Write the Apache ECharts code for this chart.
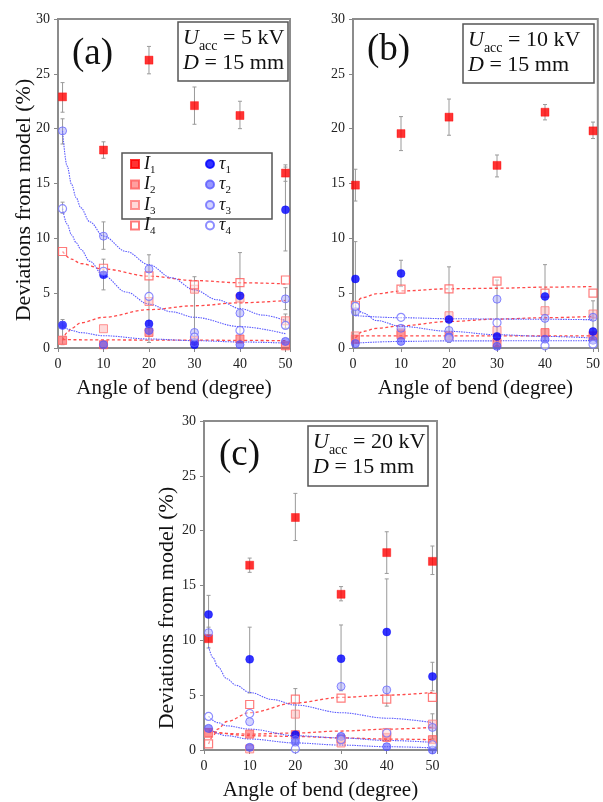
<!DOCTYPE html>
<html><head><meta charset="utf-8">
<script src="https://cdn.jsdelivr.net/npm/echarts@6/dist/echarts.min.js"></script>
<style>html,body{margin:0;padding:0;background:#fff}#c{width:603px;height:802px}</style>
</head><body><div id="c"></div>
<script>
// ---------- DATA ----------
const xTicks = [0, 10, 20, 30, 40, 50];
const xA = [1, 10, 20, 30, 40, 50];
const xB = [0.5, 10, 20, 30, 40, 50];
const xC = [1, 10, 20, 30, 40, 50];

// panel (a) Uacc = 5 kV
const a_I1 = [22.9, 18.05, 26.25, 22.1, 21.2, 15.95];
const a_I2 = [0.7, 0.3, 1.42, 0.67, 0.82, 0.2];
const a_I3 = [0.7, 1.76, 4.24, 5.36, 4.55, 2.48];
const a_I4 = [8.8, 7.27, 6.58, 5.76, 5.97, 6.2];
const a_t1 = [2.1, 6.67, 2.2, 0.3, 4.76, 12.6];
const a_t2 = [2.06, 0.3, 1.6, 0.5, 0.3, 0.6];
const a_t3 = [19.8, 10.2, 7.2, 1.42, 3.18, 4.48];
const a_t4 = [12.7, 7.0, 4.7, 1.0, 1.6, 2.06];
const a_fitT3 = [[1,19.8],[2,16.6],[3,14.9],[4,13.7],[5,12.8],[7,11.5],[10,10.2],[15,8.8],[20,7.6],[25,6.4],[30,5.3],[35,4.4],[40,3.6],[45,3.0],[50,2.5]];
const a_fitT4 = [[1,12.7],[2,11.3],[3,10.3],[4,9.6],[5,9.0],[7,7.9],[10,6.6],[15,5.1],[20,4.0],[25,3.3],[30,2.8],[40,1.95],[50,1.3]];
const a_fitT2 = [[1,2.06],[3,1.6],[5,1.4],[10,1.12],[20,0.82],[30,0.67],[40,0.55],[50,0.45]];
const a_fitI4 = [[1,8.8],[3,8.1],[5,7.7],[10,7.2],[20,6.55],[30,6.15],[40,5.95],[50,5.85]];
const a_fitI3 = [[1,0.7],[2,1.4],[3,1.8],[5,2.3],[10,2.8],[20,3.5],[30,3.85],[40,4.12],[50,4.33]];
const a_fitI2 = [[1,0.76],[25,0.72],[50,0.67]];
const a_err = [[1,21.5,24.2],[10,17.3,18.8],[20,25.0,27.5],[30,20.4,23.8],[40,20.0,22.5],[50,15.2,16.7],
  [50,8.85,16.5],[1,18.6,20.9],[1,12.3,13.3],[1,0.3,2.6],[10,9.0,11.5],[10,5.3,8.1],[20,0.5,8.5],
  [30,0.2,6.5],[40,0.5,8.7],[50,3.5,5.5],[50,1.8,3.1]];

// panel (b) Uacc = 10 kV
const b_I1 = [14.85, 19.55, 21.05, 16.65, 21.5, 19.8];
const b_I2 = [0.8, 1.2, 1.1, 0.5, 1.4, 1.1];
const b_I3 = [1.1, 1.36, 2.94, 1.6, 3.4, 3.1];
const b_I4 = [3.9, 5.36, 5.4, 6.1, 5.0, 5.0];
const b_t1 = [6.3, 6.8, 2.6, 1.06, 4.7, 1.5];
const b_t2 = [0.4, 0.6, 1.0, 0.15, 0.8, 0.7];
const b_t3 = [3.3, 1.8, 1.6, 4.45, 2.7, 2.8];
const b_t4 = [3.8, 2.8, 0.9, 2.3, 0.2, 0.35];
const b_fitT4 = [[0.5,3.9],[2,3.2],[5,2.5],[10,1.97],[20,1.52],[30,1.21],[40,1.06],[50,0.91]];
const b_fitT3 = [[0.5,2.95],[10,2.76],[20,2.67],[30,2.64],[40,2.62],[50,2.58]];
const b_fitT2 = [[0.5,0.45],[10,0.6],[20,0.65],[50,0.67]];
const b_fitI4 = [[0.5,4.0],[2,4.6],[5,4.95],[10,5.2],[20,5.4],[30,5.45],[40,5.55],[50,5.6]];
const b_fitI3 = [[0.5,0.9],[2,1.5],[5,1.8],[10,2.03],[20,2.42],[30,2.64],[40,2.76],[50,2.88]];
const b_fitI2 = [[0.5,1.1],[25,1.1],[50,1.1]];
const b_err = [[0.5,13.4,16.3],[10,18.0,21.1],[20,19.4,22.7],[30,15.6,17.6],[40,20.8,22.2],[50,19.1,20.6],
  [0.5,3.0,9.7],[10,5.6,8.0],[20,0.5,7.4],[30,0.2,6.2],[40,0.5,7.6],[50,0.8,4.3]];

// panel (c) Uacc = 20 kV
const c_I1 = [10.15, 16.85, 21.2, 14.2, 18.0, 17.2];
const c_I2 = [1.6, 1.45, 1.4, 1.0, 1.15, 0.94];
const c_I3 = [1.5, 0.1, 3.27, 0.64, 1.6, 2.36];
const c_I4 = [0.55, 4.15, 4.64, 4.73, 4.64, 4.8];
const c_t1 = [12.36, 8.27, 1.4, 8.33, 10.76, 6.7];
const c_t2 = [1.97, 0.24, 0.7, 1.24, 0.3, 0.0];
const c_t3 = [10.7, 2.58, 0.95, 5.8, 5.48, 2.06];
const c_t4 = [3.06, 3.33, 0.1, 0.94, 1.55, 0.48];
const c_fitT3 = [[1,9.4],[2,8.4],[3,7.6],[5,6.5],[7,5.9],[10,5.25],[15,4.6],[20,4.1],[30,3.4],[40,2.9],[50,2.5]];
const c_fitT4 = [[1,3.06],[3,2.5],[5,2.2],[10,1.9],[20,1.3],[30,1.1],[40,0.87],[50,0.7]];
const c_fitT2 = [[1,1.9],[5,1.3],[10,1.0],[20,0.64],[30,0.45],[40,0.3],[50,0.2]];
const c_fitI4 = [[1,0.55],[2,1.3],[3,1.9],[5,2.6],[10,3.4],[20,4.3],[30,4.8],[40,5.0],[50,5.25]];
const c_fitI2 = [[1,1.6],[10,1.45],[20,1.55],[30,1.73],[40,1.9],[50,2.06]];
const c_fitI3 = [[1,1.75],[10,1.3],[20,1.24],[30,1.1],[40,1.0],[50,0.94]];
const c_err = [[10,16.2,17.5],[20,19.1,23.4],[30,13.6,14.9],[40,16.1,19.9],[50,16.0,18.6],
  [1,10.5,14.1],[1,9.3,11.2],[10,5.2,11.2],[30,5.4,11.4],[40,4.0,15.6],[50,5.4,8.0],[20,0.5,5.6],[50,1.0,3.3]];

const seriesNames = ['I1','I2','I3','I4','τ1','τ2','τ3','τ4'];
const panelLabels = ['(a)','(b)','(c)'];
const voltages = ['5 kV','10 kV','20 kV'];
const xTitle = 'Angle of bend (degree)';
const yTitle = 'Deviations from model (%)';

// ---------- STYLE ----------
const SERIF = '"Liberation Serif","DejaVu Serif",serif';
const RED_FIT = '#ff4a4a', BLUE_FIT = '#5a5aff';
const markerStyle = {
  'I1': {symbol:'rect', itemStyle:{color:'#ff0000', borderColor:'#ff0000', borderWidth:0.5}},
  'I2': {symbol:'rect', itemStyle:{color:'rgba(255,70,70,0.65)', borderColor:'#ff5a5a', borderWidth:1}},
  'I3': {symbol:'rect', itemStyle:{color:'rgba(255,120,120,0.35)', borderColor:'#ff7a7a', borderWidth:1}},
  'I4': {symbol:'rect', itemStyle:{color:'rgba(255,255,255,0.55)', borderColor:'#ff5a5a', borderWidth:1.2}},
  'τ1': {symbol:'circle', itemStyle:{color:'#0000ff', borderColor:'#0000ff', borderWidth:0.5}},
  'τ2': {symbol:'circle', itemStyle:{color:'rgba(70,70,255,0.7)', borderColor:'#5a5aff', borderWidth:1}},
  'τ3': {symbol:'circle', itemStyle:{color:'rgba(130,130,255,0.45)', borderColor:'#6a6aff', borderWidth:1}},
  'τ4': {symbol:'circle', itemStyle:{color:'rgba(255,255,255,0.55)', borderColor:'#7070ff', borderWidth:1.2}}
};

const grids = [
  {left:58, top:19, width:232, height:329},
  {left:353, top:19, width:248, height:329},
  {left:204, top:421, width:233, height:330}
];

const panels = [
  {x:xA, vals:{'I1':a_I1,'I2':a_I2,'I3':a_I3,'I4':a_I4,'τ1':a_t1,'τ2':a_t2,'τ3':a_t3,'τ4':a_t4},
   fits:[[a_fitI4,'r'],[a_fitI3,'r'],[a_fitI2,'r'],[a_fitT3,'b'],[a_fitT4,'b'],[a_fitT2,'b']], err:a_err},
  {x:xB, vals:{'I1':b_I1,'I2':b_I2,'I3':b_I3,'I4':b_I4,'τ1':b_t1,'τ2':b_t2,'τ3':b_t3,'τ4':b_t4},
   fits:[[b_fitI4,'r'],[b_fitI3,'r'],[b_fitI2,'r'],[b_fitT4,'b'],[b_fitT3,'b'],[b_fitT2,'b']], err:b_err},
  {x:xC, vals:{'I1':c_I1,'I2':c_I2,'I3':c_I3,'I4':c_I4,'τ1':c_t1,'τ2':c_t2,'τ3':c_t3,'τ4':c_t4},
   fits:[[c_fitI4,'r'],[c_fitI2,'r'],[c_fitI3,'r'],[c_fitT3,'b'],[c_fitT4,'b'],[c_fitT2,'b']], err:c_err}
];

const series = [];
const xAxes = [], yAxes = [];
panels.forEach((p, g) => {
  xAxes.push({
    gridIndex:g, type:'value', min:0, max:51, interval:10,
    name: xTitle, nameLocation:'middle', nameGap:30,
    nameTextStyle:{fontFamily:SERIF, fontSize:21, color:'#111'},
    axisLine:{show:false}, splitLine:{show:false},
    axisTick:{show:true, length:4, lineStyle:{color:'#888'}},
    axisLabel:{fontFamily:SERIF, fontSize:14, color:'#222', margin:9,
      formatter: v => (xTicks.indexOf(v) >= 0 ? String(v) : '')}
  });
  yAxes.push({
    gridIndex:g, type:'value', min:0, max:30, interval:5,
    axisLine:{show:false}, splitLine:{show:false},
    axisTick:{show:true, length:4, lineStyle:{color:'#888'}},
    axisLabel:{fontFamily:SERIF, fontSize:14, color:'#222', margin:8}
  });
  series.push({
    type:'custom', xAxisIndex:g, yAxisIndex:g, z:1, silent:true,
    data:p.err,
    renderItem:(params, api) => {
      const x = api.value(0), lo = api.value(1), hi = api.value(2);
      const a = api.coord([x, lo]), b = api.coord([x, hi]);
      const st = {stroke:'#9a9a9a', lineWidth:1};
      return {type:'group', children:[
        {type:'line', shape:{x1:a[0], y1:a[1], x2:b[0], y2:b[1]}, style:st},
        {type:'line', shape:{x1:a[0]-2, y1:a[1], x2:a[0]+2, y2:a[1]}, style:st},
        {type:'line', shape:{x1:b[0]-2, y1:b[1], x2:b[0]+2, y2:b[1]}, style:st}
      ]};
    }
  });
  p.fits.forEach(f => {
    series.push({
      type:'line', xAxisIndex:g, yAxisIndex:g, data:f[0], smooth:0.35, smoothMonotone:'x',
      showSymbol:false, silent:true, z:2,
      lineStyle: f[1] === 'r' ? {color:RED_FIT, width:1.3, type:[3,2.5]} : {color:BLUE_FIT, width:1.1, type:[1.5,1]}
    });
  });
  seriesNames.forEach(n => {
    series.push({
      type:'scatter', name:n, xAxisIndex:g, yAxisIndex:g, z:3,
      data: p.x.map((x, i) => [x, p.vals[n][i]]),
      symbol: markerStyle[n].symbol, symbolSize:8,
      itemStyle: markerStyle[n].itemStyle
    });
  });
});

const legendText = {
  fontFamily:SERIF, color:'#111', lineHeight:15,
  rich:{
    i:{fontFamily:SERIF, fontSize:18, fontStyle:'italic', lineHeight:15, color:'#111'},
    s:{fontFamily:SERIF, fontSize:11, lineHeight:11, verticalAlign:'bottom', color:'#111', padding:[0,0,-4,0]}
  }
};
const legendFmt = name => '{i|' + name[0] + '}{s|' + name.slice(1) + '}';

const graphics = [];
// legend box
graphics.push({type:'rect', shape:{x:122, y:153, width:150, height:66}, style:{fill:'#fff', stroke:'#555', lineWidth:1.5}, z:5});
// y titles
[[24, 200], [167, 608]].forEach(pos => {
  graphics.push({type:'text', x:pos[0], y:pos[1], rotation:Math.PI/2, z:10,
    style:{text:yTitle, fontFamily:SERIF, fontSize:22, fill:'#111', align:'center', verticalAlign:'middle'}});
});
// panel labels
[[72, 54], [367, 50], [219, 455]].forEach((pos, i) => {
  graphics.push({type:'text', x:pos[0], y:pos[1], z:10,
    style:{text:panelLabels[i], fontFamily:SERIF, fontSize:37, fill:'#111', align:'left', verticalAlign:'middle'}});
});
// annotation boxes
[[178, 22, 110, 59], [463, 24, 131, 59], [308, 426, 120, 60]].forEach((b, i) => {
  graphics.push({type:'rect', shape:{x:b[0], y:b[1], width:b[2], height:b[3]}, z:9,
    style:{fill:'#fff', stroke:'#555', lineWidth:1.5}});
  graphics.push({type:'text', x:b[0] + 5, y:b[1] + 4, z:10,
    style:{
      text:'{i|U}{s|acc}{n| = ' + voltages[i] + '}\n{i|D}{n| = 15 mm}',
      fontFamily:SERIF, fill:'#111', align:'left', verticalAlign:'top',
      rich:{
        i:{fontFamily:SERIF, fontSize:22, fontStyle:'italic', lineHeight:25, fill:'#111'},
        n:{fontFamily:SERIF, fontSize:22, lineHeight:25, fill:'#111'},
        s:{fontFamily:SERIF, fontSize:14, lineHeight:14, verticalAlign:'bottom', fill:'#111', padding:[0,0,-2,0]}
      }
    }});
});

const option = {
  animation:false,
  backgroundColor:'#fff',
  grid: grids.map(g => Object.assign({show:true, borderColor:'#8c8c8c', borderWidth:2, backgroundColor:'transparent'}, g)),
  xAxis:xAxes, yAxis:yAxes,
  legend:[
    {data:['I1','I2','I3','I4'], left:130, top:155, orient:'vertical', padding:0, itemGap:0,
     itemWidth:8, itemHeight:8, selectedMode:false, formatter:legendFmt, textStyle:legendText, z:6},
    {data:['τ1','τ2','τ3','τ4'], left:205, top:155, orient:'vertical', padding:0, itemGap:0,
     itemWidth:8, itemHeight:8, selectedMode:false, formatter:legendFmt, textStyle:legendText, z:6}
  ],
  graphic:graphics,
  series:series
};
const chart = echarts.init(document.getElementById('c'), null, {renderer:'canvas'});
chart.setOption(option);
</script></body></html>
